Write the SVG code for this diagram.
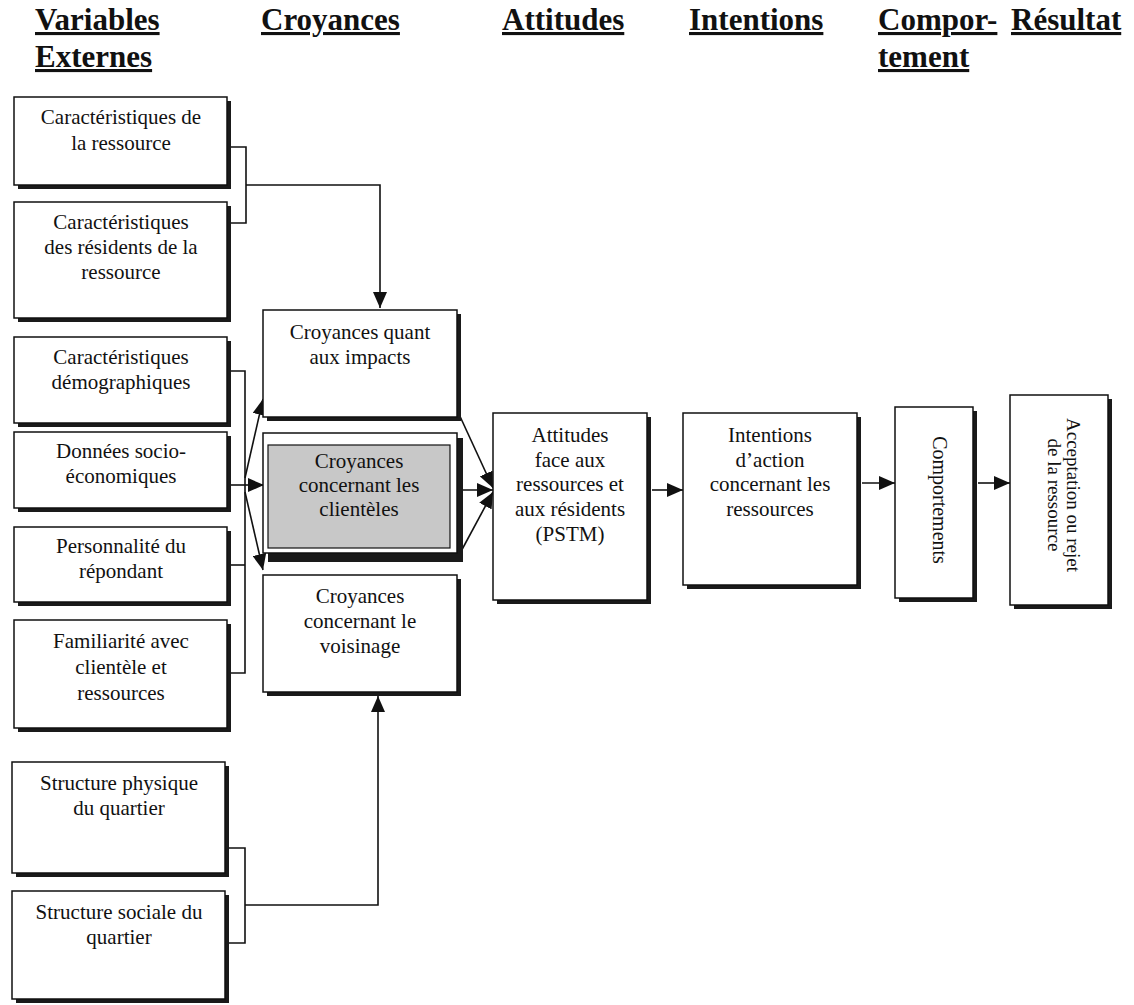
<svg xmlns="http://www.w3.org/2000/svg" width="1134" height="1005" viewBox="0 0 1134 1005">
<style>
.hd{font-family:"Liberation Serif",serif;font-weight:bold;font-size:31px;fill:#111;text-decoration:underline}
.t{font-family:"Liberation Serif",serif;font-size:21px;fill:#111;text-anchor:middle}
.box{fill:#fff;stroke:#111;stroke-width:1.5}
.sh{fill:#1a1a1a}
.ln{fill:none;stroke:#111;stroke-width:1.6}
</style>
<defs>
<marker id="ah" markerUnits="userSpaceOnUse" markerWidth="18" markerHeight="14" refX="16" refY="7" orient="auto">
<path d="M0,0 L16,7 L0,14 Z" fill="#111"/>
</marker>
</defs>
<rect width="1134" height="1005" fill="#fff"/>
<g id="headers">
<text class="hd" x="35" y="30">Variables</text>
<text class="hd" x="35" y="67">Externes</text>
<text class="hd" x="261" y="30">Croyances</text>
<text class="hd" x="502" y="30">Attitudes</text>
<text class="hd" x="689" y="30">Intentions</text>
<text class="hd" x="878" y="30">Compor-</text>
<text class="hd" x="878" y="67">tement</text>
<text class="hd" x="1011" y="30">Résultat</text>
</g>
<g id="connectors">
<path class="ln" d="M227,147 H246 V223 H227"/>
<path class="ln" d="M246,185 H380 V308" marker-end="url(#ah)"/>
<path class="ln" d="M227,371 H245 V673 H227"/>
<path class="ln" d="M227,485 H245"/>
<path class="ln" d="M227,565 H245"/>
<path class="ln" d="M245,478 L263,399" marker-end="url(#ah)"/>
<path class="ln" d="M245,485 H264" marker-end="url(#ah)"/>
<path class="ln" d="M245,492 L263,570" marker-end="url(#ah)"/>
<path class="ln" d="M227,848 H245 V943 H227"/>
<path class="ln" d="M245,905 H378 V696" marker-end="url(#ah)"/>
<path class="ln" d="M458,412 L493,488" marker-end="url(#ah)"/>
<path class="ln" d="M455,490 H493" marker-end="url(#ah)"/>
<path class="ln" d="M458,557 L493,492" marker-end="url(#ah)"/>
<path class="ln" d="M652,490 H683" marker-end="url(#ah)"/>
<path class="ln" d="M862,483 H895" marker-end="url(#ah)"/>
<path class="ln" d="M978,483 H1010" marker-end="url(#ah)"/>
</g>
<g id="n1"><rect class="sh" x="18" y="101" width="213" height="88"/><rect class="box" x="14" y="97" width="213" height="88"/>
<text class="t" x="121" y="124">Caractéristiques de</text><text class="t" x="121" y="150">la ressource</text></g>
<g id="n2"><rect class="sh" x="18" y="206" width="213" height="116"/><rect class="box" x="14" y="202" width="213" height="116"/>
<text class="t" x="121" y="229">Caractéristiques</text><text class="t" x="121" y="254">des résidents de la</text><text class="t" x="121" y="279">ressource</text></g>
<g id="n3"><rect class="sh" x="18" y="341" width="213" height="86"/><rect class="box" x="14" y="337" width="213" height="86"/>
<text class="t" x="121" y="364">Caractéristiques</text><text class="t" x="121" y="389">démographiques</text></g>
<g id="n4"><rect class="sh" x="18" y="436" width="213" height="76"/><rect class="box" x="14" y="432" width="213" height="76"/>
<text class="t" x="121" y="458">Données socio-</text><text class="t" x="121" y="483">économiques</text></g>
<g id="n5"><rect class="sh" x="18" y="531" width="213" height="75"/><rect class="box" x="14" y="527" width="213" height="75"/>
<text class="t" x="121" y="553">Personnalité du</text><text class="t" x="121" y="578">répondant</text></g>
<g id="n6"><rect class="sh" x="18" y="624" width="213" height="108"/><rect class="box" x="14" y="620" width="213" height="108"/>
<text class="t" x="121" y="648">Familiarité avec</text><text class="t" x="121" y="674">clientèle et</text><text class="t" x="121" y="700">ressources</text></g>
<g id="n7"><rect class="sh" x="16" y="766" width="213" height="111"/><rect class="box" x="12" y="762" width="213" height="111"/>
<text class="t" x="119" y="790">Structure physique</text><text class="t" x="119" y="815">du quartier</text></g>
<g id="n8"><rect class="sh" x="16" y="895" width="213" height="108"/><rect class="box" x="12" y="891" width="213" height="108"/>
<text class="t" x="119" y="919">Structure sociale du</text><text class="t" x="119" y="944">quartier</text></g>
<g id="n9"><rect class="sh" x="267" y="314" width="194" height="107"/><rect class="box" x="263" y="310" width="194" height="107"/>
<text class="t" x="360" y="339">Croyances quant</text><text class="t" x="360" y="364">aux impacts</text></g>
<g id="n10"><rect class="sh" x="268" y="438" width="195" height="124"/><rect class="box" x="263" y="433" width="194" height="120"/>
<rect x="268" y="445" width="182" height="103" fill="#c8c8c8" stroke="#111" stroke-width="1.2"/>
<text class="t" x="359" y="468">Croyances</text><text class="t" x="359" y="492">concernant les</text><text class="t" x="359" y="516">clientèles</text></g>
<g id="n11"><rect class="sh" x="267" y="579" width="194" height="117"/><rect class="box" x="263" y="575" width="194" height="117"/>
<text class="t" x="360" y="603">Croyances</text><text class="t" x="360" y="628">concernant le</text><text class="t" x="360" y="653">voisinage</text></g>
<g id="n12"><rect class="sh" x="497" y="417" width="154" height="187"/><rect class="box" x="493" y="413" width="154" height="187"/>
<text class="t" x="570" y="442">Attitudes</text><text class="t" x="570" y="467">face aux</text><text class="t" x="570" y="491">ressources et</text><text class="t" x="570" y="516">aux résidents</text><text class="t" x="570" y="541">(PSTM)</text></g>
<g id="n13"><rect class="sh" x="687" y="417" width="174" height="172"/><rect class="box" x="683" y="413" width="174" height="172"/>
<text class="t" x="770" y="442">Intentions</text><text class="t" x="770" y="467">d’action</text><text class="t" x="770" y="491">concernant les</text><text class="t" x="770" y="516">ressources</text></g>
<g id="n14"><rect class="sh" x="899" y="411" width="78" height="191"/><rect class="box" x="895" y="407" width="78" height="191"/>
<text class="t" style="font-size:20px" transform="translate(940,500) rotate(90)" x="0" y="7">Comportements</text></g>
<g id="n15"><rect class="sh" x="1014" y="399" width="98" height="210"/><rect class="box" x="1010" y="395" width="98" height="210"/>
<text class="t" style="font-size:19px" transform="translate(1064,495) rotate(90)" x="0" y="-3">Acceptation ou rejet</text>
<text class="t" style="font-size:19px" transform="translate(1064,495) rotate(90)" x="0" y="16">de la ressource</text></g>
</svg>
